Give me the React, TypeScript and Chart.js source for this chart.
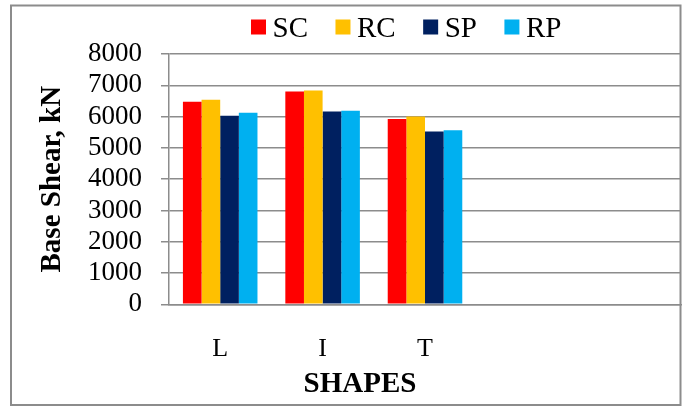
import React, { useEffect, useRef } from "react";
import { Chart, registerables } from "chart.js";

Chart.register(...registerables);

const categories = ["L", "I", "T", "", ""];
const seriesNames = ["SC", "RC", "SP", "RP"];
const scValues = [6470, 6800, 5920, null, null];
const rcValues = [6540, 6830, 6000, null, null];
const spValues = [6030, 6160, 5520, null, null];
const rpValues = [6120, 6190, 5560, null, null];
const seriesColors = ["#FF0000", "#FFC000", "#002060", "#00B0F0"];
const yMin = 0;
const yMax = 8000;
const yStep = 1000;
const yTitle = "Base Shear, kN";
const xTitle = "SHAPES";

const FONT = '"Liberation Serif", "Times New Roman", serif';

const decorPlugin = {
  id: "decor",
  afterDraw(chart: any) {
    const ctx = chart.ctx as CanvasRenderingContext2D;
    ctx.save();
    // outer border
    ctx.strokeStyle = "#8c8c8c";
    ctx.lineWidth = 2;
    ctx.strokeRect(11, 5.5, 669.5, 399.5);
    // legend
    ctx.font = `29px ${FONT}`;
    ctx.textBaseline = "alphabetic";
    ctx.textAlign = "left";
    let x = 251;
    chart.data.datasets.forEach((ds: any) => {
      ctx.fillStyle = ds.backgroundColor;
      ctx.fillRect(x, 19.5, 15, 15);
      ctx.fillStyle = "#000";
      ctx.fillText(ds.label, x + 21.5, 36.7);
      x += 21.5 + ctx.measureText(ds.label).width + 27.5;
    });
    // x axis title
    ctx.font = `bold 29px ${FONT}`;
    ctx.textAlign = "center";
    ctx.fillStyle = "#000";
    ctx.fillText(xTitle, 360, 391.7);
    ctx.restore();
  },
};

export default function App() {
  const ref = useRef<HTMLCanvasElement | null>(null);

  useEffect(() => {
    if (!ref.current) return;
    const values = [scValues, rcValues, spValues, rpValues];
    const chart = new Chart(ref.current, {
      type: "bar",
      data: {
        labels: categories,
        datasets: seriesNames.map((name, i) => ({
          label: name,
          data: values[i],
          backgroundColor: seriesColors[i],
          borderWidth: 0,
          barPercentage: 1,
          categoryPercentage: 0.728,
        })),
      },
      options: {
        responsive: false,
        animation: false,
        devicePixelRatio: 1,
        layout: { padding: { left: 31, top: 54, right: 7, bottom: 0 } },
        plugins: {
          legend: { display: false },
          tooltip: { enabled: false },
        },
        scales: {
          x: {
            grid: { display: false, drawTicks: false },
            border: { display: true, color: "#8c8c8c", width: 1.5 },
            ticks: {
              font: { family: FONT, size: 26 },
              color: "#000",
              padding: 29,
              autoSkip: false,
              maxRotation: 0,
            },
            afterFit: (s: any) => {
              s.height = 103.7;
            },
          },
          y: {
            min: yMin,
            max: yMax,
            ticks: {
              stepSize: yStep,
              font: { family: FONT, size: 27, lineHeight: 1 },
              color: "#000",
              padding: 19,
              autoSkip: false,
              callback: (v: any) => String(v),
            },
            grid: { color: "#8c8c8c", lineWidth: 1.5, tickLength: 8, drawTicks: true },
            border: { display: true, color: "#8c8c8c", width: 1.5 },
            title: {
              display: true,
              text: yTitle,
              font: { family: FONT, size: 29, weight: "bold" },
              color: "#000",
              padding: { top: 4, bottom: 4 },
            },
            afterFit: (s: any) => {
              s.width = 138;
            },
          },
        },
      },
      plugins: [decorPlugin],
    });
    return () => chart.destroy();
  }, []);

  return (
    <div style={{ position: "absolute", left: 0, top: 0, width: 688, height: 408, background: "#fff" }}>
      <canvas ref={ref} width={688} height={408} style={{ display: "block" }} />
    </div>
  );
}
